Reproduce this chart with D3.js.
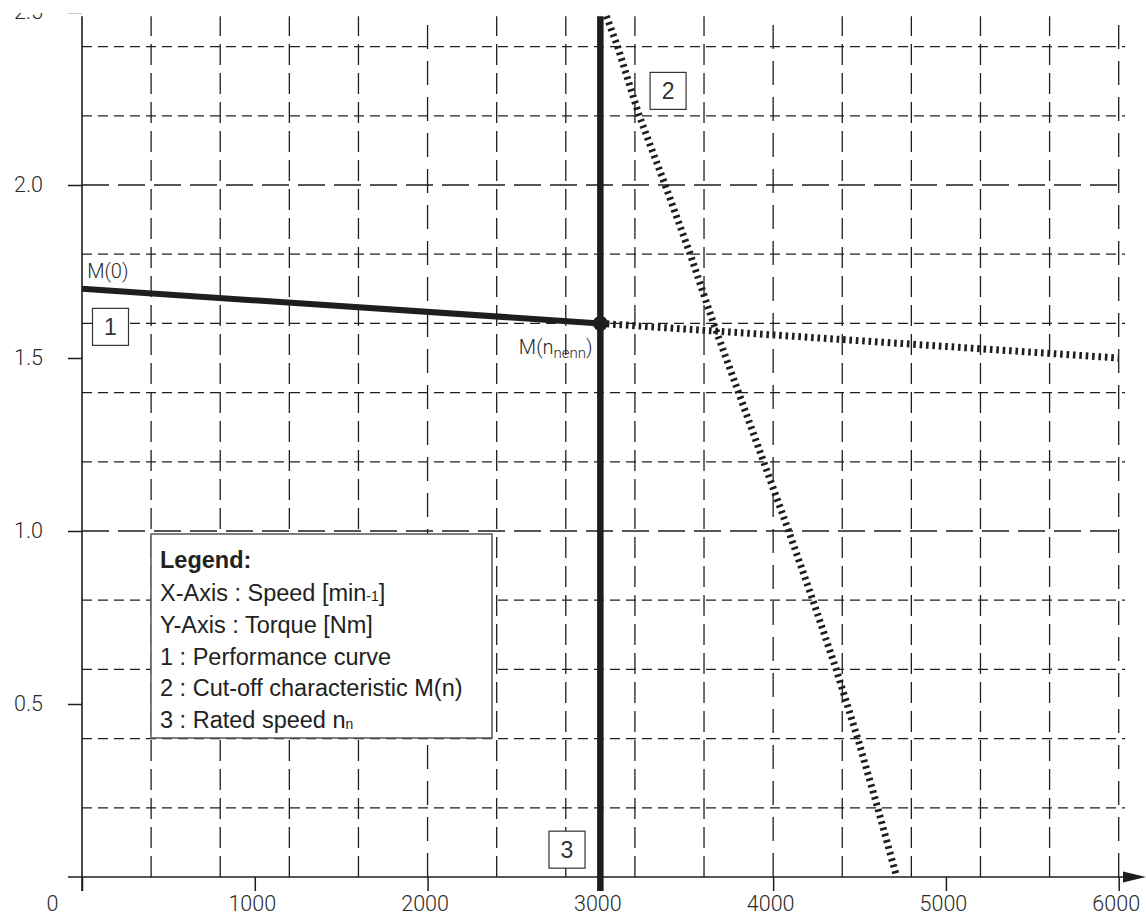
<!DOCTYPE html>
<html>
<head>
<meta charset="utf-8">
<script src="https://cdn.jsdelivr.net/npm/d3@7"></script>
<style>
body { margin: 0; background: #fff; }
.tick-font { font-family: Roboto, 'DejaVu Sans', sans-serif; font-weight: 300; fill: #2a2a2a; }
.legend-font { font-family: 'Liberation Sans', Arial, sans-serif; fill: #222; }
</style>
</head>
<body>
<script>
var width = 1146;
var height = 918;

// tick labels and grid positions
var xTicks = [0, 1000, 2000, 3000, 4000, 5000, 6000];
var yTicks = [0.5, 1.0, 1.5, 2.0, 2.5];
var xGrid = [400, 800, 1200, 1600, 2000, 2400, 2800, 3200, 3600, 4000, 4400, 4800, 5200, 5600, 6000];
var yGrid = [0.2, 0.4, 0.6, 0.8, 1.0, 1.2, 1.4, 1.6, 1.8, 2.0, 2.2, 2.4];

// 1 : performance curve (solid) and its dotted continuation
var perfSpeed = [0, 3000];
var perfTorque = [1.7, 1.6];
var extSpeed = [3000, 6000];
var extTorque = [1.6, 1.5];

// 2 : cut-off characteristic M(n)
var cutSpeed = [3035, 3100, 3225, 3375, 3520, 3655, 3800, 3945, 4090, 4230, 4365, 4490, 4605, 4715];
var cutTorque = [2.488, 2.4, 2.2, 2.0, 1.8, 1.6, 1.4, 1.2, 1.0, 0.8, 0.6, 0.4, 0.2, 0];

// 3 : rated speed
var ratedSpeed = 3000;
var topTorque = 2.488;

var legendTitle = 'Legend:';

var x = d3.scaleLinear().domain([0, 6000]).range([82, 1118.7]);
var y = d3.scaleLinear().domain([0, 2.5]).range([877, 12]);

var svg = d3.select('body').append('svg')
    .attr('width', width)
    .attr('height', height);

svg.append('defs').append('clipPath')
    .attr('id', 'topclip')
    .append('rect')
    .attr('x', -200).attr('y', 13)
    .attr('width', width + 200).attr('height', height);

var ink = '#1e1e1e';

// grid
var grid = svg.append('g');
grid.selectAll('.hgrid')
    .data(yGrid)
    .enter()
        .append('line')
        .attr('x1', x(0))
        .attr('x2', 1125)
        .attr('y1', function(d) { return y(d); })
        .attr('y2', function(d) { return y(d); })
        .attr('stroke', ink)
        .attr('stroke-width', 1.3)
        .attr('stroke-dasharray', function(d) {
            return Math.abs(d - Math.round(d)) < 1e-6 ? '27,9' : '10,6';
        });

grid.selectAll('.vgrid')
    .data(xGrid)
    .enter()
        .append('line')
        .attr('x1', function(d) { return x(d); })
        .attr('x2', function(d) { return x(d); })
        .attr('y1', y(0))
        .attr('y2', y(topTorque))
        .attr('stroke', ink)
        .attr('stroke-width', 1.3)
        .attr('stroke-dasharray', function(d) {
            return d % 2000 === 0 ? '24,12' : '21,8';
        });

// axes
var yAxis = d3.axisLeft(y)
    .tickValues(yTicks)
    .tickSize(14)
    .tickPadding(25)
    .tickFormat(d3.format('.1f'));

var yAxisG = svg.append('g')
    .attr('transform', 'translate(' + x(0) + ',0)')
    .attr('clip-path', 'url(#topclip)')
    .call(yAxis);
yAxisG.select('.domain').remove();
yAxisG.selectAll('line').attr('stroke', ink).attr('stroke-width', 1.5);
yAxisG.selectAll('text')
    .attr('class', 'tick-font')
    .style('font-size', '21.5px');

var xAxis = d3.axisBottom(x)
    .tickValues(xTicks)
    .tickSize(14)
    .tickPadding(5)
    .tickFormat(d3.format('d'));

var xAxisG = svg.append('g')
    .attr('transform', 'translate(0,' + y(0) + ')')
    .call(xAxis);
xAxisG.select('.domain').remove();
xAxisG.selectAll('line').attr('stroke', ink).attr('stroke-width', 1.5);
xAxisG.selectAll('text')
    .attr('class', 'tick-font')
    .style('font-size', '21.5px')
    .attr('x', function(d) { return d === 0 ? -30 : -3; });

// axis lines
svg.append('line')
    .attr('x1', x(0)).attr('x2', x(0))
    .attr('y1', y(topTorque)).attr('y2', y(0) + 14)
    .attr('stroke', ink).attr('stroke-width', 1.6);
svg.append('line')
    .attr('x1', x(0) - 14).attr('x2', 1128)
    .attr('y1', y(0)).attr('y2', y(0))
    .attr('stroke', ink).attr('stroke-width', 1.6);
svg.append('path')
    .attr('d', 'M1123,' + (y(0) - 5.5) + 'L1146,' + y(0) + 'L1123,' + (y(0) + 5.5) + 'Z')
    .attr('fill', ink);

// curves
var line = d3.line()
    .x(function(d) { return x(d[0]); })
    .y(function(d) { return y(d[1]); });

function pairs(a, b) {
    return a.map(function(v, i) { return [v, b[i]]; });
}

svg.append('path')
    .attr('d', line(pairs(extSpeed, extTorque)))
    .attr('fill', 'none')
    .attr('stroke', ink)
    .attr('stroke-width', 7)
    .attr('stroke-dasharray', '2.6,3.8');

svg.append('path')
    .attr('d', line(pairs(cutSpeed, cutTorque)))
    .attr('fill', 'none')
    .attr('stroke', ink)
    .attr('stroke-width', 7)
    .attr('stroke-dasharray', '2.6,3.8');

svg.append('line')
    .attr('x1', x(ratedSpeed)).attr('x2', x(ratedSpeed))
    .attr('y1', y(topTorque)).attr('y2', y(0) + 14)
    .attr('stroke', ink)
    .attr('stroke-width', 6.5);

svg.append('path')
    .attr('d', line(pairs(perfSpeed, perfTorque)))
    .attr('fill', 'none')
    .attr('stroke', ink)
    .attr('stroke-width', 6);

svg.append('circle')
    .attr('cx', x(perfSpeed[1]))
    .attr('cy', y(perfTorque[1]))
    .attr('r', 7.5)
    .attr('fill', ink);

// point labels
svg.append('text')
    .attr('class', 'tick-font')
    .attr('x', x(30))
    .attr('y', y(1.731))
    .style('font-size', '20px')
    .text('M(0)');

var mn = svg.append('text')
    .attr('class', 'tick-font')
    .attr('x', x(2955))
    .attr('y', y(1.511))
    .attr('text-anchor', 'end')
    .style('font-size', '20px');
mn.append('tspan').text('M(n');
mn.append('tspan').attr('dy', 4).style('font-size', '15px').text('nenn');
mn.append('tspan').attr('dy', -4).text(')');

// numbered boxes
var boxes = [
    { label: '1', n: 165, m: 1.59 },
    { label: '2', n: 3392, m: 2.272 },
    { label: '3', n: 2807, m: 0.079 }
];
var boxG = svg.selectAll('.numbox')
    .data(boxes)
    .enter()
        .append('g')
        .attr('transform', function(d) {
            return 'translate(' + x(d.n) + ',' + y(d.m) + ')';
        });
boxG.append('rect')
    .attr('x', -18).attr('y', -18.5)
    .attr('width', 36).attr('height', 37)
    .attr('fill', '#fff')
    .attr('stroke', '#333')
    .attr('stroke-width', 1.2);
boxG.append('text')
    .attr('class', 'legend-font')
    .attr('text-anchor', 'middle')
    .attr('dy', '0.36em')
    .style('font-size', '23px')
    .style('fill', '#333')
    .text(function(d) { return d.label; });

// legend
var legend = svg.append('g').attr('transform', 'translate(151,534)');
legend.append('rect')
    .attr('width', 341)
    .attr('height', 204)
    .attr('fill', '#fff')
    .attr('stroke', '#555')
    .attr('stroke-width', 1.5);

legend.append('text')
    .attr('class', 'legend-font')
    .attr('x', 9).attr('y', 34)
    .style('font-size', '23.5px')
    .style('font-weight', 'bold')
    .text(legendTitle);

var rows = [
    [['X-Axis : Speed [min', 0], ['-1', 1], [']', 0]],
    [['Y-Axis : Torque [Nm]', 0]],
    [['1 : Performance curve', 0]],
    [['2 : Cut-off characteristic M(n)', 0]],
    [['3 : Rated speed n', 0], ['n', 2]]
];
rows.forEach(function(parts, i) {
    var t = legend.append('text')
        .attr('class', 'legend-font')
        .attr('x', 9)
        .attr('y', 67 + i * 31.8)
        .style('font-size', '23.5px');
    parts.forEach(function(p) {
        var span = t.append('tspan').text(p[0]);
        if (p[1] === 1) span.style('font-size', '14px');
        if (p[1] === 2) span.style('font-size', '14px').attr('dy', 1);
    });
});
</script>
</body>
</html>
